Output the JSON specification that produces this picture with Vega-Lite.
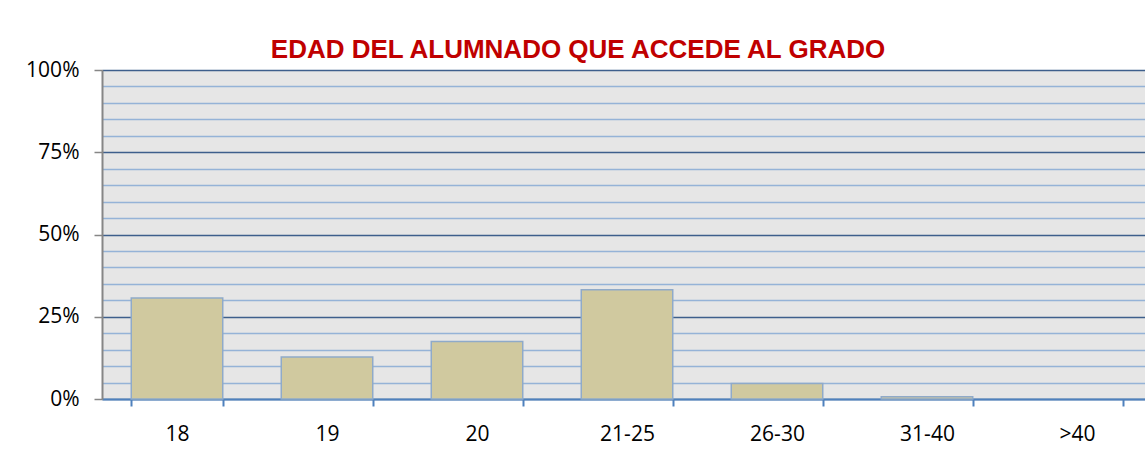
{
  "$schema": "https://vega.github.io/schema/vega-lite/v6.json",
  "autosize": "none",
  "width": 1050,
  "height": 329,
  "padding": {"left": 102, "top": 70, "right": 0, "bottom": 51},
  "background": "white",
  "title": {
    "text": "EDAD DEL ALUMNADO QUE ACCEDE AL GRADO",
    "font": "Liberation Sans",
    "fontSize": 26,
    "fontWeight": "bold",
    "color": "#c00000",
    "anchor": "middle",
    "dx": -49,
    "offset": -4
  },
  "data": {
    "values": [
      {"edad": "18", "pct": 30.7},
      {"edad": "19", "pct": 12.8},
      {"edad": "20", "pct": 17.5},
      {"edad": "21-25", "pct": 33.2},
      {"edad": "26-30", "pct": 4.7},
      {"edad": "31-40", "pct": 0.7},
      {"edad": ">40", "pct": 0}
    ]
  },
  "config": {
    "view": {"fill": "#e6e6e6", "stroke": null},
    "axis": {"labelFont": "Open Sans", "labelFontSize": 21, "labelColor": "#000000"}
  },
  "mark": {"type": "bar", "fill": "#d0c99f", "stroke": "#8faac9", "strokeWidth": 1.5},
  "encoding": {
    "x": {
      "field": "edad",
      "type": "nominal",
      "sort": null,
      "scale": {"paddingInner": 0.39, "paddingOuter": 0.195},
      "axis": {
        "title": null,
        "labelAngle": 0,
        "domainColor": "#4f81bd",
        "domainWidth": 2,
        "tickColor": "#4f81bd",
        "tickWidth": 2,
        "tickSize": 7,
        "tickBand": "extent",
        "labelPadding": 17
      }
    },
    "y": {
      "field": "pct",
      "type": "quantitative",
      "scale": {"domain": [0, 100], "nice": false},
      "axis": {
        "title": null,
        "values": [0,5,10,15,20,25,30,35,40,45,50,55,60,65,70,75,80,85,90,95,100],
        "labelExpr": "datum.value % 25 === 0 ? datum.value + '%' : ''",
        "grid": true,
        "gridColor": {"condition": {"test": "datum.value % 25 === 0", "value": "#3e5f8c"}, "value": "#95b3d7"},
        "gridWidth": 1.5,
        "gridOpacity": 1,
        "domainColor": "#868686",
        "domainWidth": 2,
        "tickColor": {"condition": {"test": "datum.value % 25 === 0", "value": "#868686"}, "value": "transparent"},
        "tickSize": 8,
        "tickWidth": 1.5,
        "labelPadding": 15
      }
    },
    "strokeOpacity": {"condition": {"test": "datum.pct === 0", "value": 0}, "value": 1}
  }
}
